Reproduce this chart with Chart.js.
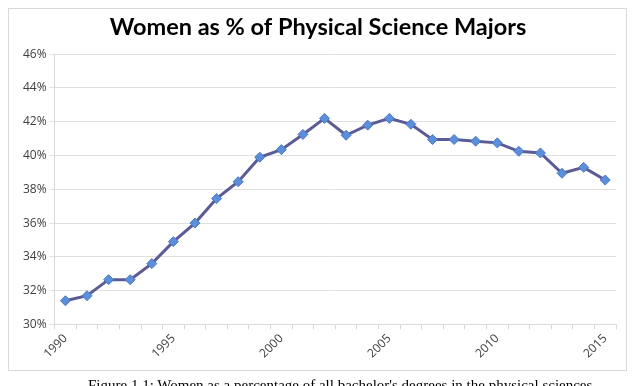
<!DOCTYPE html>
<html>
<head>
<meta charset="utf-8">
<script src="https://cdn.jsdelivr.net/npm/chart.js@4/dist/chart.umd.min.js"></script>
<style>
  body { margin: 0; background: #fff; width: 640px; height: 386px; overflow: hidden; position: relative; }
  #frame { position: absolute; left: 8px; top: 8px; width: 619px; height: 363px; border: 1px solid #d9d9d9; box-sizing: border-box; }
  #chart { position: absolute; left: 0; top: 0; }
  #caption { position: absolute; left: 88px; top: 377px; font-family: "Liberation Serif", serif; font-size: 15px; color: #000; white-space: nowrap; }
</style>
</head>
<body>
<div id="frame"></div>
<canvas id="chart" width="640" height="386"></canvas>
<div id="caption">Figure 1.1: Women as a percentage of all bachelor's degrees in the physical sciences</div>
<script>
const years = [
  "1990", "1991", "1992", "1993", "1994", "1995", "1996", "1997", "1998", "1999",
  "2000", "2001", "2002", "2003", "2004", "2005", "2006", "2007", "2008", "2009",
  "2010", "2011", "2012", "2013", "2014", "2015"
];
const womenPct = [
  31.4, 31.7, 32.65, 32.65, 33.6, 34.9, 36.0, 37.45, 38.45, 39.9,
  40.35, 41.25, 42.2, 41.2, 41.8, 42.2, 41.85, 40.95, 40.95, 40.85,
  40.75, 40.25, 40.15, 38.95, 39.3, 38.55
];
const yMin = 30;
const yMax = 46;
const yStep = 2;

const ctx = document.querySelector("#chart").getContext("2d");

new Chart(ctx, {
  type: "line",
  data: {
    labels: years,
    datasets: [
      {
        label: "Women as % of Physical Science Majors",
        data: womenPct,
        borderColor: "#5b5b96",
        borderWidth: 3,
        pointStyle: "rectRot",
        pointRadius: 5,
        pointBackgroundColor: "#5b8fdc",
        pointBorderColor: "#4a78c2",
        pointBorderWidth: 1,
        tension: 0,
        fill: false,
      },
    ],
  },
  options: {
    responsive: false,
    animation: false,
    layout: {
      padding: { left: 20, right: 24, top: 0, bottom: 23 },
    },
    plugins: {
      legend: { display: false },
      tooltip: { enabled: false },
      title: {
        display: true,
        text: "Women as % of Physical Science Majors",
        color: "#000",
        font: { family: "Lato", size: 23.5, weight: "bold" },
        padding: { top: 13, bottom: 13 },
      },
    },
    scales: {
      x: {
        offset: true,
        grid: {
          offset: true,
          drawOnChartArea: false,
          drawTicks: true,
          tickLength: 5,
          color: "#d9d9d9",
        },
        border: { color: "#d9d9d9" },
        ticks: {
          autoSkip: false,
          maxRotation: 45,
          minRotation: 45,
          color: "#404040",
          padding: 2,
          font: { family: "Open Sans", size: 12 },
          callback: function (value, index) {
            const y = years[index];
            return Number(y) % 5 === 0 ? y : "";
          },
        },
      },
      y: {
        min: yMin,
        max: yMax,
        grid: {
          color: "#e0e0e0",
          tickLength: 5,
        },
        border: { color: "#d9d9d9" },
        ticks: {
          stepSize: yStep,
          color: "#404040",
          font: { family: "Open Sans", size: 12 },
          callback: (v) => v + "%",
        },
      },
    },
  },
});
</script>
</body>
</html>
